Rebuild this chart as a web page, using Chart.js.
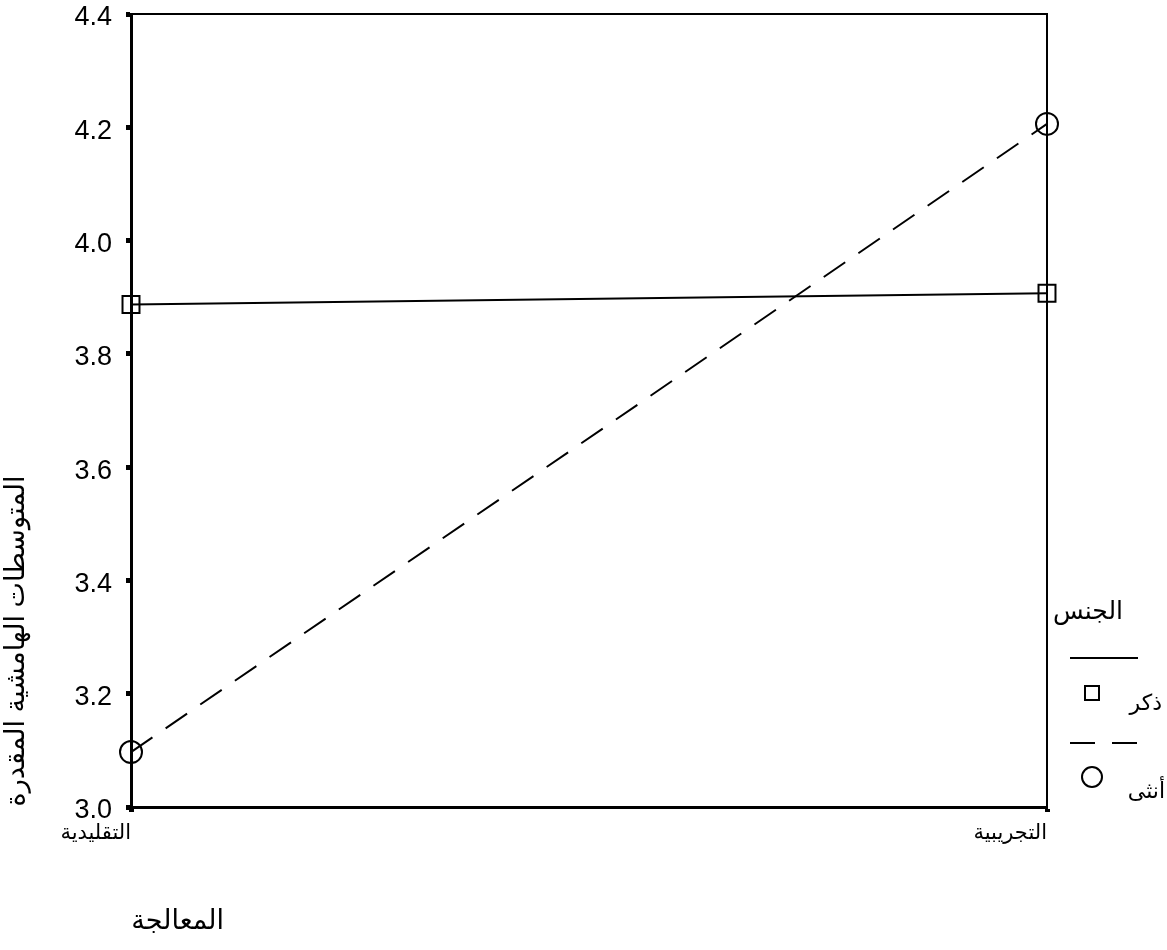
<!DOCTYPE html>
<html>
<head>
<meta charset="utf-8">
<script src="https://cdn.jsdelivr.net/npm/chart.js@4/dist/chart.umd.min.js"></script>
<style>
  html, body { margin: 0; padding: 0; background: #fff; }
  #wrap { width: 1167px; height: 950px; }
</style>
</head>
<body>
<div id="wrap"><canvas id="c" width="1167" height="950"></canvas></div>
<script>
// Treatment groups on the x axis
const categories = ['التقليدية', 'التجريبية'];
// Estimated marginal means by gender
const maleMeans = [3.887, 3.907];
const femaleMeans = [3.097, 4.206];
const seriesNames = ['ذكر', 'أنثى'];
const legendTitle = 'الجنس';
const xTitle = 'المعالجة';
const yTitle = 'المتوسطات الهامشية المقدرة';
const yTicks = [3.0, 3.2, 3.4, 3.6, 3.8, 4.0, 4.2, 4.4];

const FONT = '"Liberation Sans", "DejaVu Sans", Arial, sans-serif';
const DASH = [26, 16];

// Frame, axis titles and the gender legend
const decorations = {
  id: 'decorations',
  afterDatasetsDraw(chart) {
    const ctx = chart.ctx;
    const a = chart.chartArea;
    ctx.save();
    ctx.strokeStyle = '#000';
    ctx.lineWidth = 2;
    ctx.setLineDash([]);
    ctx.beginPath();
    ctx.moveTo(a.left, a.top);
    ctx.lineTo(a.right, a.top);
    ctx.lineTo(a.right, a.bottom);
    ctx.stroke();

    ctx.fillStyle = '#000';
    // y axis title, rotated, sitting toward the bottom of the axis
    ctx.save();
    ctx.translate(17, 641);
    ctx.rotate(-Math.PI / 2);
    ctx.font = '27px ' + FONT;
    ctx.textAlign = 'center';
    ctx.textBaseline = 'middle';
    ctx.fillText(yTitle, 0, 0);
    ctx.restore();

    // x axis title
    ctx.font = '27px ' + FONT;
    ctx.textAlign = 'right';
    ctx.textBaseline = 'middle';
    ctx.fillText(xTitle, 224, 922);

    // legend
    ctx.font = '25px ' + FONT;
    ctx.textAlign = 'right';
    ctx.fillText(legendTitle, 1123, 612);

    ctx.lineWidth = 2;
    ctx.beginPath();
    ctx.moveTo(1070, 658);
    ctx.lineTo(1138, 658);
    ctx.stroke();
    ctx.strokeRect(1085, 686, 14, 14);
    ctx.font = '22px ' + FONT;
    ctx.fillText(seriesNames[0], 1162, 704);

    ctx.setLineDash([25, 17]);
    ctx.beginPath();
    ctx.moveTo(1070, 743);
    ctx.lineTo(1138, 743);
    ctx.stroke();
    ctx.setLineDash([]);
    ctx.beginPath();
    ctx.arc(1092, 777, 10, 0, Math.PI * 2);
    ctx.stroke();
    ctx.fillText(seriesNames[1], 1165, 792);
    ctx.restore();
  }
};

new Chart(document.getElementById('c'), {
  type: 'line',
  data: {
    labels: categories,
    datasets: [
      {
        label: seriesNames[0],
        data: maleMeans,
        borderColor: '#000',
        borderWidth: 2,
        pointStyle: 'rect',
        pointRadius: 12,
        pointBorderWidth: 2,
        pointBorderColor: '#000',
        pointBackgroundColor: 'rgba(0,0,0,0)',
        tension: 0,
        clip: false
      },
      {
        label: seriesNames[1],
        data: femaleMeans,
        borderColor: '#000',
        borderWidth: 2,
        borderDash: DASH,
        pointStyle: 'circle',
        pointRadius: 11,
        pointBorderWidth: 2,
        pointBorderColor: '#000',
        pointBackgroundColor: 'rgba(0,0,0,0)',
        tension: 0,
        clip: false
      }
    ]
  },
  options: {
    responsive: false,
    animation: false,
    events: [],
    layout: { padding: { left: 0, top: 12, right: 120, bottom: 0 } },
    plugins: { legend: { display: false }, tooltip: { enabled: false } },
    scales: {
      x: {
        type: 'category',
        offset: false,
        grid: {
          drawOnChartArea: false,
          drawTicks: true,
          tickLength: 5,
          tickWidth: 5,
          tickColor: '#000'
        },
        border: { display: true, color: '#000', width: 3 },
        ticks: {
          color: '#000',
          font: { family: FONT, size: 21 },
          align: 'end',
          padding: 9,
          maxRotation: 0,
          autoSkip: false
        },
        afterFit(scale) {
          scale.height = 950 - 807;
          scale.paddingLeft = 0;
          scale.paddingRight = 0;
        }
      },
      y: {
        type: 'linear',
        min: 3.0,
        max: 4.4,
        afterBuildTicks(scale) { scale.ticks = yTicks.map(v => ({ value: v })); },
        grid: {
          drawOnChartArea: false,
          drawTicks: true,
          tickLength: 5,
          tickWidth: 5,
          tickColor: '#000'
        },
        border: { display: true, color: '#000', width: 3 },
        ticks: {
          color: '#000',
          font: { family: FONT, size: 27 },
          padding: 14,
          labelOffset: 4,
          callback: v => Number(v).toFixed(1)
        },
        afterFit(scale) {
          scale.width = 131;
          scale.paddingTop = 0;
          scale.paddingBottom = 0;
        }
      }
    }
  },
  plugins: [decorations]
});
</script>
</body>
</html>
